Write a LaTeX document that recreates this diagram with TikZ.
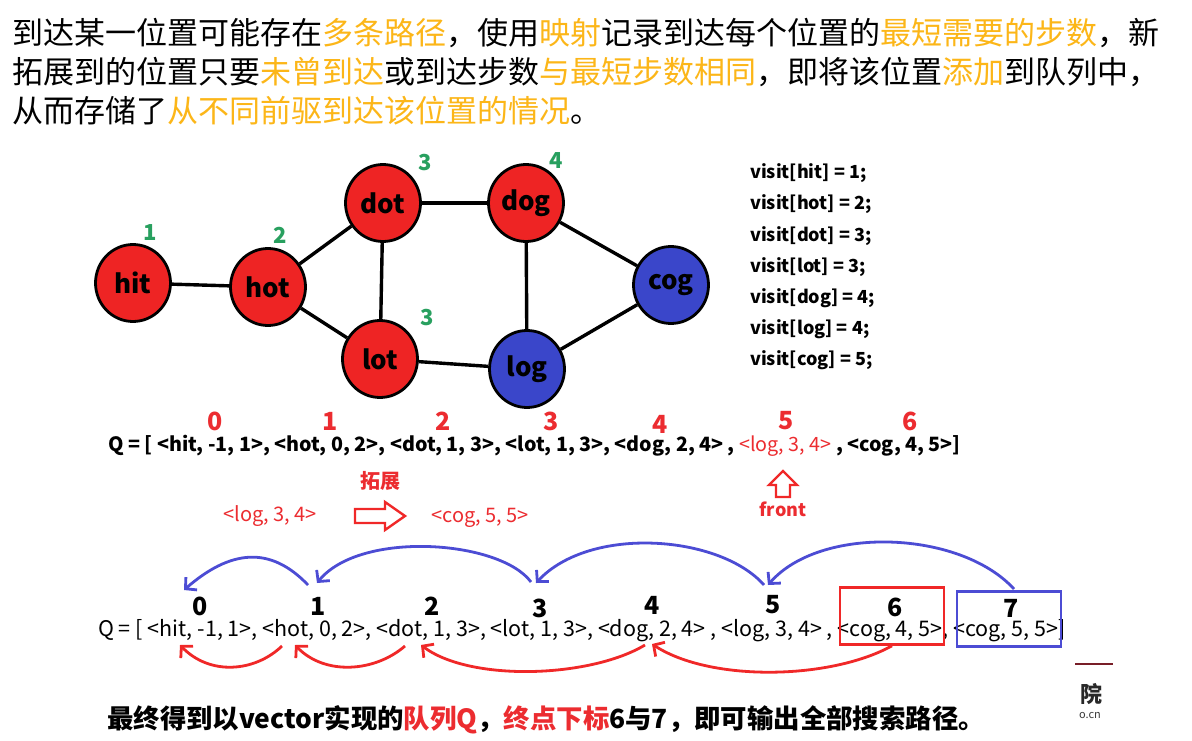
\documentclass[tikz,border=0pt]{standalone}
\usepackage{fontspec}
\setmainfont{Noto Sans CJK SC}
\usetikzlibrary{shapes.geometric,arrows.meta}
\definecolor{hl}{RGB}{252,182,24}
\definecolor{rtxt}{RGB}{236,44,48}
\definecolor{gnum}{RGB}{40,160,95}
\definecolor{nred}{RGB}{238,36,36}
\definecolor{nblue}{RGB}{58,70,202}
\definecolor{barrow}{RGB}{76,76,212}
\definecolor{rarrow}{RGB}{240,40,40}
\begin{document}
\begin{tikzpicture}[x=1pt,y=-1pt,
  toptext/.style={anchor=west,inner sep=0,font=\fontsize{31}{37}\selectfont},
  gnode/.style={ellipse,draw=black,line width=2.8pt,minimum width=75,minimum height=77,inner sep=0,font=\fontsize{26}{26}\selectfont\bfseries},
  rednode/.style={gnode,fill=nred},
  bluenode/.style={gnode,fill=nblue},
  gedge/.style={draw=black,line width=3.4pt},
  gnumber/.style={inner sep=0,text=gnum,font=\fontsize{22}{22}\selectfont\bfseries},
  visit/.style={anchor=west,inner sep=0,font=\fontsize{18}{20}\selectfont\bfseries},
  qone/.style={anchor=west,inner sep=0,font=\fontsize{19.7}{21}\selectfont\bfseries},
  ridx/.style={inner sep=0,text=rtxt,font=\fontsize{25}{25}\selectfont\bfseries},
  qtwo/.style={anchor=west,inner sep=0,font=\fontsize{21.5}{23}\selectfont},
  bidx/.style={inner sep=0,font=\fontsize{25}{25}\selectfont\bfseries},
  redlbl/.style={inner sep=0,text=rtxt,font=\fontsize{20}{21}\selectfont},
  barrowstyle/.style={draw=barrow,line width=2.8pt,-{Straight Barb[length=8pt,width=17pt]}},
  rarrowstyle/.style={draw=rarrow,line width=2.8pt,-{Straight Barb[length=8pt,width=17pt]}},
  hollow/.style={draw=rarrow,line width=2.4pt,line join=miter}
]
\useasboundingbox[fill=white] (0,0) rectangle (1192,741);

% ---- top text
\node[toptext] (t1) at (12,33) {到达某一位置可能存在\textcolor{hl}{多条路径}，使用\textcolor{hl}{映射}记录到达每个位置的\textcolor{hl}{最短需要的步数}，新};
\node[toptext] (t2) at (12,72) {拓展到的位置只要\textcolor{hl}{未曾到达}或到达步数\textcolor{hl}{与最短步数相同}，即将该位置\textcolor{hl}{添加}到队列中，};
\node[toptext] (t3) at (12,111) {从而存储了\textcolor{hl}{从不同前驱到达该位置的情况}。};

% ---- graph
\node[rednode] (hit) at (133,283) {hit};
\node[rednode] (hot) at (268,287) {hot};
\node[rednode] (dot) at (383,203) {dot};
\node[rednode] (dog) at (526,203) {dog};
\node[rednode] (lot) at (380,359) {lot};
\node[bluenode] (log) at (527,369) {log};
\node[bluenode] (cog) at (671,285) {cog};
\draw[gedge] (hit) -- (hot);
\draw[gedge] (hot) -- (dot);
\draw[gedge] (hot) -- (lot);
\draw[gedge] (dot) -- (dog);
\draw[gedge] (dot) -- (lot);
\draw[gedge] (dog) -- (log);
\draw[gedge] (dog) -- (cog);
\draw[gedge] (lot) -- (log);
\draw[gedge] (log) -- (cog);

\node[gnumber] (n1) at (150,233) {1};
\node[gnumber] (n2) at (280,235) {2};
\node[gnumber] (n3) at (425,163) {3};
\node[gnumber] (n4) at (556,161) {4};
\node[gnumber] (n5) at (427,318) {3};

% ---- visit list
\node[visit] (v1) at (750,173) {visit[hit] = 1;};
\node[visit] (v2) at (750,204) {visit[hot] = 2;};
\node[visit] (v3) at (750,236) {visit[dot] = 3;};
\node[visit] (v4) at (750,267) {visit[lot] = 3;};
\node[visit] (v5) at (750,298) {visit[dog] = 4;};
\node[visit] (v6) at (750,329) {visit[log] = 4;};
\node[visit] (v7) at (750,360) {visit[cog] = 5;};

% ---- first queue
\node[ridx] (r0) at (215,421) {0};
\node[ridx] (r1) at (330,421) {1};
\node[ridx] (r2) at (443,421) {2};
\node[ridx] (r3) at (551,421) {3};
\node[ridx] (r4) at (660,424) {4};
\node[ridx] (r5) at (786,421) {5};
\node[ridx] (r6) at (910,421) {6};
\node[qone] (q1) at (108,446) {Q = [ <hit, -1, 1>, <hot, 0, 2>, <dot, 1, 3>, <lot, 1, 3>, <dog, 2, 4> , \textcolor{rtxt}{\mdseries <log, 3, 4>} , <cog, 4, 5>]};

\node[inner sep=0,text=rtxt,font=\fontsize{20}{20}\selectfont\bfseries] (kz) at (380,481) {拓展};
\node[redlbl] (la) at (270,516) {<log, 3, 4>};
\node[redlbl] (lb) at (480,518) {<cog, 5, 5>};
\draw[hollow] (355,509) -- (385,509) -- (385,502) -- (405,516) -- (385,530) -- (385,523) -- (355,523) -- cycle;
\draw[hollow] (783,471) -- (797,485) -- (790,485) -- (790,497) -- (776,497) -- (776,485) -- (769,485) -- cycle;
\node[inner sep=0,text=rtxt,font=\fontsize{18}{18}\selectfont\bfseries] (front) at (783,509) {front};

% ---- second queue
\node[bidx] (b0) at (200,606) {0};
\node[bidx] (b1) at (318,606) {1};
\node[bidx] (b2) at (432,606) {2};
\node[bidx] (b3) at (540,608) {3};
\node[bidx] (b4) at (652,605) {4};
\node[bidx] (b5) at (773,605) {5};
\node[bidx] (b6) at (895,607) {6};
\node[bidx] (b7) at (1011,608) {7};
\node[qtwo] (q2) at (98,631) {Q = [ <hit, -1, 1>, <hot, 0, 2>, <dot, 1, 3>, <lot, 1, 3>, <dog, 2, 4> , <log, 3, 4> , <cog, 4, 5>, <cog, 5, 5>]};

\node[draw=rarrow,line width=2.6pt,minimum width=104,minimum height=57,inner sep=0] (box6) at (892,616) {};
\node[draw=barrow,line width=2.6pt,minimum width=104,minimum height=55,inner sep=0] (box7) at (1009,619) {};

% blue arrows (above)
\coordinate (s1) at (308,585);
\coordinate (e0) at (184,590);
\coordinate (s3) at (531,582);
\coordinate (e1) at (317,583);
\coordinate (s5) at (764,585);
\coordinate (e3) at (536,583);
\coordinate (s7) at (1014,589);
\coordinate (e5) at (768,585);
\draw[barrowstyle] (s1) .. controls (270,545) and (230,550) .. (e0);
\draw[barrowstyle] (s3) .. controls (500,540) and (360,530) .. (e1);
\draw[barrowstyle] (s5) .. controls (720,535) and (590,525) .. (e3);
\draw[barrowstyle] (s7) .. controls (960,530) and (820,525) .. (e5);

% red arrows (below)
\coordinate (u1) at (282,646);
\coordinate (w0) at (180,645);
\coordinate (u2) at (405,646);
\coordinate (w1) at (295,645);
\coordinate (u4) at (645,645);
\coordinate (w2) at (421,645);
\coordinate (w4) at (652,644);
\draw[rarrowstyle] (u1) .. controls (255,672) and (210,676) .. (w0);
\draw[rarrowstyle] (u2) .. controls (375,672) and (325,676) .. (w1);
\draw[rarrowstyle] (u4) .. controls (590,678) and (470,682) .. (w2);
\draw[rarrowstyle] (box6.south) .. controls (830,680) and (710,682) .. (w4);

% ---- bottom text
\node[inner sep=0,anchor=west,font=\fontsize{26.4}{28}\selectfont\bfseries] (bt) at (107,720) {最终得到以vector实现的\textcolor{rtxt}{队列Q}，\textcolor{rtxt}{终点下标}6与7，即可输出全部搜索路径。};

% ---- watermark remnants
\draw[draw={rgb,255:red,120;green,30;blue,40},line width=1.2pt] (1075,664) -- (1113,664);
\node[inner sep=0,text={rgb,255:red,40;green,40;blue,40},font=\fontsize{22}{22}\selectfont\bfseries] (wm) at (1091,694) {院};
\node[inner sep=0,text={rgb,255:red,60;green,60;blue,60},font=\fontsize{11}{12}\selectfont] (wm2) at (1090,716) {o.cn};
\end{tikzpicture}
\end{document}
